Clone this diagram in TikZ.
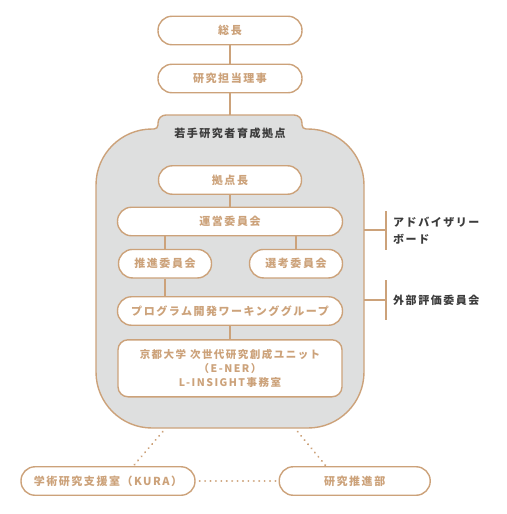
\documentclass[tikz,border=0pt]{standalone}
\usepackage{fontspec}
\newfontfamily\jp{Noto Sans CJK JP}[LetterSpace=14]
\definecolor{tan}{HTML}{CCA27A}
\definecolor{panel}{HTML}{DEDFDF}
\definecolor{ink}{HTML}{3C3C3C}
\tikzset{
  line/.style={draw=tan, line width=1.4pt},
  dotline/.style={draw=tan, line width=2.2pt, line cap=round, dash pattern=on 0.01pt off 5.4pt},
  pill/.style={draw=tan, line width=1.4pt, fill=white, rounded corners=14pt,
    minimum height=28.5pt, inner sep=0pt, text=tan,
    font=\jp\bfseries\fontsize{11}{13}\selectfont},
  darktext/.style={text=ink, inner sep=0pt, font=\jp\bfseries\fontsize{11}{17}\selectfont}
}
\begin{document}
\begin{tikzpicture}[x=1pt,y=-1pt]
\useasboundingbox (0,0) rectangle (506,514);
% panel
\path[line, fill=panel] (166,115) -- (294,115) arc[start angle=270,end angle=360,radius=8]
  -- (302,125) arc[start angle=180,end angle=90,radius=4]
  -- (308,129) arc[start angle=270,end angle=360,radius=56]
  -- (364,372) arc[start angle=0,end angle=90,radius=56]
  -- (152,428) arc[start angle=90,end angle=180,radius=56]
  -- (96,185) arc[start angle=180,end angle=270,radius=56]
  -- (154,129) arc[start angle=90,end angle=0,radius=4]
  -- (158,123) arc[start angle=180,end angle=270,radius=8] -- cycle;
\coordinate (tabtop) at (230,115);
\node[darktext] (kyoten) at (230,133) {若手研究者育成拠点};
% boxes
\node[pill, minimum width=144pt] (souchou) at (230,30.5) {総長};
\node[pill, minimum width=144pt] (riji) at (230,78.5) {研究担当理事};
\node[pill, minimum width=143pt] (choo) at (230,180) {拠点長};
\node[pill, minimum width=225pt] (unei) at (230,221.5) {運営委員会};
\node[pill, minimum width=93pt] (suishin) at (165,263.7) {推進委員会};
\node[pill, minimum width=93pt] (senko) at (296,263.7) {選考委員会};
\node[pill, minimum width=225pt] (prog) at (230,311) {プログラム開発ワーキンググループ};
\node[pill, minimum width=224pt, minimum height=57pt, rounded corners=10pt, align=center,
  font=\jp\bfseries\fontsize{10.5}{13.7}\selectfont] (unit) at (230,368.3)
  {京都大学 次世代研究創成ユニット\\（E-NER）\\L-INSIGHT事務室};
\node[pill, minimum width=174pt] (kura) at (108,481) {学術研究支援室（KURA）};
\node[pill, minimum width=151pt] (suishinbu) at (354.7,481) {研究推進部};
% connectors
\draw[line] (souchou) -- (riji);
\draw[line] (riji) -- (tabtop);
\draw[line] (choo) -- (unei);
\draw[line] (unei.south -| suishin.north) -- (suishin.north);
\draw[line] (unei.south -| senko.north) -- (senko.north);
\draw[line] (suishin) -- (prog.north -| suishin.south);
\draw[line] (prog) -- (unit);
% right side brackets
\coordinate (b1s) at (364,230);
\coordinate (b1m) at (386,230);
\coordinate (b1t) at (386,211);
\coordinate (b1b) at (386,250);
\draw[line] (b1s) -- (b1m);
\draw[line] (b1t) -- (b1b);
\coordinate (b2s) at (364,300);
\coordinate (b2m) at (386,300);
\coordinate (b2t) at (386,280);
\coordinate (b2b) at (386,319.5);
\draw[line] (b2s) -- (b2m);
\draw[line] (b2t) -- (b2b);
\node[darktext, anchor=west, align=left] (advisory) at (393,230.5) {アドバイザリー\\ボード};
\node[darktext, anchor=west] (gaibu) at (393,300) {外部評価委員会};
% dotted links
\coordinate (pl) at (162.7,431.7);
\coordinate (pr) at (297.7,431.7);
\coordinate (kl) at (133.3,466);
\coordinate (kr) at (326,466);
\draw[dotline] (pl) -- (kl);
\draw[dotline] (pr) -- (kr);
\draw[dotline] ([xshift=4pt]kura.east) -- ([xshift=-3pt]suishinbu.west);
\end{tikzpicture}
\end{document}
